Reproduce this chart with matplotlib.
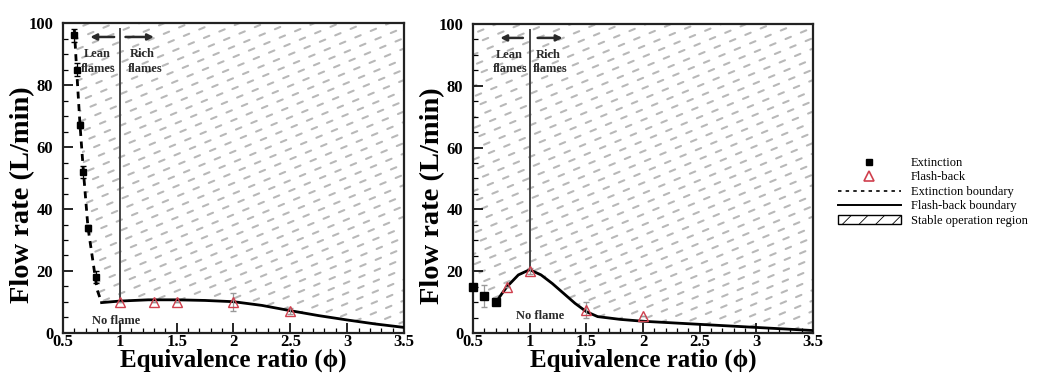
import numpy as np
import matplotlib
matplotlib.use("Agg")
import matplotlib.pyplot as plt
from matplotlib.patches import Polygon, Patch
from matplotlib.lines import Line2D
from matplotlib.ticker import MultipleLocator

# ---- data -------------------------------------------------------------
# panel (a)
a_ext_phi = [0.60, 0.62, 0.65, 0.68, 0.72, 0.79]
a_ext_flow = [96, 85, 67, 52, 34, 18]
a_ext_err = [2, 2, 1, 2, 1, 2]
a_extb_phi = [0.60, 0.62, 0.65, 0.68, 0.72, 0.78, 0.80, 0.84]
a_extb_flow = [98, 85, 67, 52, 34, 19, 14, 9.8]
a_fb_phi = [1.0, 1.3, 1.5, 2.0, 2.5]
a_fb_flow = [10, 10, 10, 10, 7]
a_fb_err = [0, 0, 0, 3, 1]
a_fbb_phi = [0.84, 1.0, 1.25, 1.5, 1.75, 2.0, 2.25, 2.5, 2.75, 3.0, 3.25, 3.5]
a_fbb_flow = [9.8, 10.3, 10.7, 10.7, 10.5, 10.1, 8.9, 7.2, 5.6, 4.2, 2.9, 1.8]

# panel (b)
b_ext_phi = [0.5, 0.6, 0.7]
b_ext_flow = [15, 12, 10]
b_ext_err = [0, 3.5, 0]
b_fb_phi = [0.8, 1.0, 1.5, 2.0]
b_fb_flow = [15, 20, 7.5, 5.5]
b_fb_err = [0, 1, 2.5, 0]
b_fbb_phi = [0.7, 0.75, 0.8, 0.9, 1.0, 1.1, 1.2, 1.3, 1.4, 1.5, 1.6, 1.8, 2.0, 2.5, 3.0, 3.5]
b_fbb_flow = [9.8, 12.5, 15, 18.8, 20.5, 18.8, 16, 12.8, 9.6, 6.9, 5.3, 4.4, 3.8, 2.8, 1.8, 0.8]

x_ticks = [0.5, 1, 1.5, 2, 2.5, 3, 3.5]
x_ticklabels = ["0.5", "1", "1.5", "2", "2.5", "3", "3.5"]
y_ticks = [0, 20, 40, 60, 80, 100]

SERIF = ["Liberation Serif", "DejaVu Serif"]
plt.rcParams["font.family"] = SERIF
plt.rcParams["lines.scale_dashes"] = False
plt.rcParams["hatch.linewidth"] = 0.6

fig = plt.figure(figsize=(10.41, 3.81), dpi=100)
ax_a = fig.add_axes([0.0605, 0.126, 0.3276, 0.8136])
ax_b = fig.add_axes([0.4544, 0.126, 0.3266, 0.8110])

HATCH = "#b8b8b8"
RED = "#d0404e"
INK = "#2a2a2a"


def hatch_region(ax, verts):
    """Dashed diagonal strokes clipped to the stable operation region."""
    clip = Polygon(verts, closed=True, transform=ax.transData,
                   facecolor="none", edgecolor="none")
    ax.add_patch(clip)
    fig.canvas.draw()
    bb = ax.get_window_extent()
    W, H = bb.width, bb.height
    slope = 0.42
    xs = np.array([-0.05, 1.05])
    for k, c in enumerate(np.arange(-W * slope - 20, H + 20, 10.5)):
        ys = (slope * xs * W + c) / H
        ln = Line2D(xs, ys, transform=ax.transAxes, color=HATCH, lw=1.5,
                    linestyle=((k * 3.7) % 12.0, (4.2, 7.8)),
                    dash_capstyle="round", zorder=1)
        ax.add_line(ln)
        ln.set_clip_path(clip)


def style_axes(ax):
    ax.set_xlim(0.5, 3.5)
    ax.set_ylim(0, 100)
    ax.set_xticks(x_ticks)
    ax.set_xticklabels(x_ticklabels)
    ax.set_yticks(y_ticks)
    ax.xaxis.set_minor_locator(MultipleLocator(0.1))
    ax.yaxis.set_minor_locator(MultipleLocator(5))
    ax.tick_params(which="major", direction="in", length=7, width=1.2,
                   top=False, right=False)
    ax.tick_params(which="minor", direction="in", length=3.5, width=0.9,
                   top=False, right=False)
    ax.tick_params(axis="x", which="major", pad=1)
    ax.tick_params(axis="y", which="major", pad=7)
    for lab in ax.get_xticklabels() + ax.get_yticklabels():
        lab.set_fontsize(12)
        lab.set_fontweight("bold")
    for sp in ax.spines.values():
        sp.set_linewidth(1.6)
        sp.set_color("#222222")
    ax.set_xlabel("Equivalence ratio (\u03d5)", fontsize=18, fontweight="bold",
                  labelpad=-1)
    ax.set_ylabel("Flow rate (L/min)", fontsize=20.5, fontweight="bold",
                  va="center")
    ax.yaxis.set_label_coords(-0.118, 0.445)


def annotate_regions(ax, top_of_line, lean_x, rich_x, arrows, noflame):
    ax.plot([1, 1], [top_of_line, 98], color="#444444", lw=1.4, zorder=3)
    (l0, l1), (r0, r1) = arrows
    for x0, x1 in ((l0, l1), (r0, r1)):
        ax.annotate("", xy=(x1, 95.5), xytext=(x0, 95.5),
                    arrowprops=dict(arrowstyle="-|>", color=INK, lw=1.8,
                                    mutation_scale=9, shrinkA=0, shrinkB=0))
    kw = dict(ha="center", va="center", fontsize=9, fontweight="bold", color=INK)
    ax.text(lean_x, 90, "Lean", **kw)
    ax.text(lean_x + 0.01, 85.3, "flames", **kw)
    ax.text(rich_x, 90, "Rich", **kw)
    ax.text(rich_x + 0.02, 85.3, "flames", **kw)
    ax.text(noflame[0], noflame[1], "No flame", **kw)


# ---- panel (a) ---------------------------------------------------------
style_axes(ax_a)
verts_a = list(zip(a_extb_phi, a_extb_flow)) + list(zip(a_fbb_phi[1:], a_fbb_flow[1:]))
verts_a += [(3.5, 100), (0.60, 100)]
hatch_region(ax_a, verts_a)
ax_a.plot(a_extb_phi, a_extb_flow, color="black", lw=2.0,
          linestyle=(0, (5, 4)), zorder=4)
ax_a.plot(a_fbb_phi, a_fbb_flow, color="black", lw=2.0, zorder=4)
ax_a.errorbar(a_ext_phi, a_ext_flow, yerr=a_ext_err, fmt="s", color="black",
              ms=5, elinewidth=0.9, capsize=2, zorder=5)
ax_a.errorbar(a_fb_phi, a_fb_flow, yerr=a_fb_err, fmt="^", mfc="none",
              mec=RED, ecolor="#999999", ms=7, mew=1.0, elinewidth=0.9,
              capsize=2, zorder=5)
annotate_regions(ax_a, a_fbb_flow[1], 0.80, 1.20,
                 ((0.95, 0.74), (1.05, 1.30)), (0.97, 4.0))

# ---- panel (b) ---------------------------------------------------------
style_axes(ax_b)
verts_b = list(zip(b_ext_phi, b_ext_flow)) + list(zip(b_fbb_phi[1:], b_fbb_flow[1:]))
verts_b += [(3.5, 100), (0.5, 100)]
hatch_region(ax_b, verts_b)
ax_b.plot(b_fbb_phi, b_fbb_flow, color="black", lw=2.0, zorder=4)
ext_b = ax_b.errorbar(b_ext_phi, b_ext_flow, yerr=b_ext_err, fmt="s",
                      color="black", ms=6, elinewidth=0.9, ecolor="#999999",
                      capsize=2, zorder=5)
for art in ext_b.lines[:1]:
    art.set_clip_on(False)
ax_b.errorbar(b_fb_phi, b_fb_flow, yerr=b_fb_err, fmt="^", mfc="none",
              mec=RED, ecolor="#999999", ms=7, mew=1.0, elinewidth=0.9,
              capsize=2, zorder=5)
annotate_regions(ax_b, b_fbb_flow[4], 0.82, 1.16,
                 ((0.94, 0.74), (1.07, 1.29)), (1.09, 5.5))

# ---- legend ------------------------------------------------------------
handles = [
    Line2D([], [], ls="none", marker="s", color="black", ms=5),
    Line2D([], [], ls="none", marker="^", mfc="none", mec=RED, ms=7, mew=1.2),
    Line2D([], [], color="black", lw=1.2, ls=(0, (2.5, 3))),
    Line2D([], [], color="black", lw=1.4),
    Patch(facecolor="white", edgecolor="black", hatch="//", lw=1.0),
]
labels = ["Extinction", "Flash-back", "Extinction boundary",
          "Flash-back boundary", "Stable operation region"]
fig.legend(handles, labels, loc="upper left", bbox_to_anchor=(0.805, 0.588),
           frameon=False, handlelength=5.0, handletextpad=0.8,
           labelspacing=0.2, borderpad=0, borderaxespad=0,
           prop={"family": SERIF, "size": 9})

fig.savefig("out.png", dpi=100)
